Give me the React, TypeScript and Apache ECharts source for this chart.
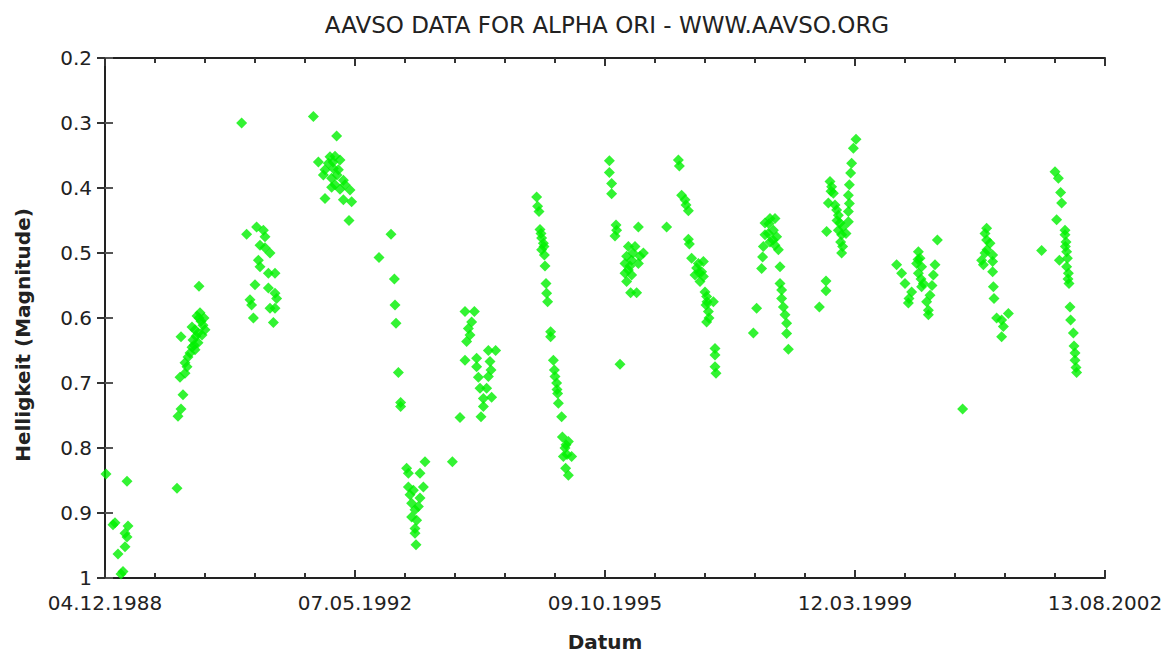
import React, { useEffect, useRef } from "react";
import * as echarts from "echarts";

// x values: days since 04.12.1988 (JD 2447500); y values: visual magnitude
const START_UTC = Date.UTC(1988, 11, 4);
const X_MIN = 0;
const X_MAX = 5000;
const X_STEP = 1250;
const Y_MIN = 0.2;
const Y_MAX = 1.0;
const Y_STEP = 0.1;

const TITLE = "AAVSO DATA FOR ALPHA ORI - WWW.AAVSO.ORG";
const X_NAME = "Datum";
const Y_NAME = "Helligkeit (Magnitude)";

const season1988 = [[5,0.84],[110,0.851],[40,0.918],[50,0.915],[115,0.92],[100,0.931],[110,0.937],[100,0.952],[65,0.963],[90,0.99],[80,0.994]];
const season1989 = [[470,0.551],[475,0.592],[460,0.597],[490,0.611],[435,0.614],[450,0.618],[500,0.618],[465,0.623],[380,0.629],[485,0.626],[440,0.634],[465,0.638],[435,0.645],[450,0.649],[425,0.654],[415,0.66],[400,0.669],[410,0.675],[400,0.685],[375,0.691],[390,0.718],[380,0.74],[365,0.751],[360,0.862],[480,0.605],[455,0.628],[470,0.6],[495,0.6],[445,0.642]];
const season1990 = [[683,0.3],[708,0.471],[758,0.46],[792,0.465],[800,0.475],[775,0.488],[800,0.492],[825,0.5],[767,0.511],[775,0.521],[817,0.531],[850,0.531],[750,0.549],[817,0.554],[850,0.562],[858,0.57],[725,0.572],[733,0.58],[825,0.585],[850,0.585],[742,0.6],[842,0.607]];
const season1991 = [[1042,0.29],[1158,0.32],[1067,0.36],[1125,0.352],[1150,0.351],[1117,0.362],[1175,0.357],[1100,0.372],[1142,0.37],[1167,0.372],[1092,0.38],[1133,0.385],[1192,0.388],[1150,0.395],[1200,0.395],[1133,0.399],[1175,0.402],[1225,0.403],[1100,0.416],[1192,0.418],[1233,0.421],[1220,0.45],[1140,0.36],[1160,0.38]];
const season1992 = [[1370,0.507],[1430,0.471],[1447,0.54],[1450,0.58],[1455,0.608],[1467,0.684],[1478,0.73],[1478,0.736],[1508,0.831],[1600,0.821],[1575,0.839],[1517,0.839],[1517,0.86],[1592,0.86],[1542,0.865],[1525,0.872],[1575,0.877],[1533,0.885],[1567,0.89],[1550,0.895],[1533,0.906],[1558,0.911],[1550,0.924],[1550,0.931],[1555,0.949]];
const season1993 = [[1737,0.821],[1775,0.753],[1800,0.59],[1847,0.59],[1833,0.606],[1817,0.616],[1825,0.626],[1808,0.636],[1800,0.665],[1858,0.662],[1917,0.65],[1953,0.65],[1858,0.675],[1925,0.667],[1930,0.68],[1867,0.691],[1917,0.69],[1875,0.708],[1908,0.708],[1933,0.722],[1892,0.724],[1892,0.736],[1880,0.752]];
const season1994 = [[2158,0.414],[2163,0.428],[2170,0.436],[2175,0.464],[2183,0.477],[2192,0.485],[2183,0.495],[2197,0.503],[2200,0.52],[2205,0.547],[2208,0.562],[2213,0.575],[2228,0.621],[2228,0.629],[2242,0.665],[2247,0.68],[2258,0.7],[2263,0.716],[2267,0.731],[2283,0.752],[2287,0.783],[2317,0.79],[2300,0.8],[2333,0.813],[2292,0.813],[2303,0.831],[2317,0.842],[2180,0.47],[2195,0.49],[2250,0.69],[2260,0.71],[2305,0.795],[2310,0.81]];
const season1995 = [[2522,0.358],[2522,0.376],[2533,0.393],[2533,0.409],[2555,0.457],[2558,0.465],[2550,0.474],[2667,0.46],[2617,0.49],[2650,0.49],[2692,0.5],[2608,0.505],[2633,0.511],[2600,0.516],[2667,0.516],[2617,0.526],[2600,0.531],[2633,0.534],[2608,0.544],[2628,0.561],[2658,0.561],[2575,0.671],[2808,0.46],[2640,0.5],[2675,0.505],[2625,0.52]];
const season1996 = [[2867,0.357],[2872,0.366],[2883,0.411],[2900,0.418],[2905,0.426],[2917,0.435],[2917,0.479],[2922,0.486],[2933,0.508],[2967,0.516],[2992,0.513],[2958,0.523],[2983,0.529],[2950,0.534],[2992,0.536],[2975,0.544],[3000,0.56],[3008,0.567],[3042,0.575],[3005,0.58],[3017,0.59],[3008,0.606],[3050,0.647],[3050,0.657],[3050,0.675],[3055,0.685],[2970,0.53],[3010,0.575],[3020,0.6]];
const season1997 = [[3242,0.623],[3258,0.585],[3283,0.524],[3288,0.506],[3292,0.49],[3300,0.472],[3300,0.454],[3325,0.447],[3350,0.447],[3317,0.47],[3342,0.465],[3358,0.475],[3325,0.483],[3350,0.488],[3367,0.495],[3375,0.521],[3375,0.547],[3383,0.557],[3383,0.57],[3392,0.583],[3400,0.595],[3408,0.608],[3408,0.624],[3417,0.648],[3320,0.455],[3340,0.48]];
const season1998 = [[3572,0.583],[3605,0.558],[3605,0.543],[3608,0.467],[3617,0.423],[3625,0.39],[3633,0.398],[3642,0.408],[3650,0.426],[3658,0.434],[3667,0.442],[3675,0.454],[3667,0.465],[3683,0.472],[3678,0.483],[3688,0.49],[3683,0.5],[3717,0.436],[3722,0.424],[3717,0.411],[3722,0.395],[3728,0.377],[3733,0.362],[3742,0.339],[3755,0.325],[3717,0.452],[3705,0.47],[3630,0.405],[3660,0.45],[3690,0.46]];
const season1999 = [[3958,0.518],[3983,0.531],[4000,0.547],[4033,0.56],[4017,0.577],[4067,0.498],[4075,0.508],[4058,0.516],[4083,0.521],[4067,0.531],[4092,0.547],[4083,0.552],[4150,0.518],[4142,0.534],[4162,0.48],[4125,0.565],[4108,0.575],[4117,0.588],[4117,0.595],[4065,0.51],[4080,0.54],[4135,0.55],[4020,0.57]];
const season2000 = [[4288,0.74],[4408,0.462],[4400,0.47],[4408,0.48],[4425,0.485],[4383,0.511],[4392,0.518],[4438,0.503],[4438,0.513],[4438,0.529],[4442,0.552],[4445,0.57],[4458,0.6],[4483,0.603],[4517,0.593],[4492,0.613],[4483,0.629],[4400,0.5],[4410,0.495]];
const season2001 = [[4683,0.496],[4750,0.375],[4767,0.385],[4778,0.407],[4783,0.423],[4758,0.449],[4800,0.465],[4800,0.472],[4805,0.483],[4808,0.498],[4772,0.511],[4812,0.508],[4808,0.521],[4817,0.531],[4820,0.547],[4825,0.583],[4828,0.603],[4842,0.623],[4845,0.643],[4850,0.654],[4850,0.665],[4855,0.676],[4858,0.684],[4802,0.49],[4815,0.54]];

const seasons = [season1988, season1989, season1990, season1991, season1992, season1993, season1994, season1995, season1996, season1997, season1998, season1999, season2000, season2001];

const FONT = "DejaVu Sans";

function fmtDate(d: number): string {
  const dt = new Date(START_UTC + Math.round(d) * 86400000);
  const p = (n: number) => (n < 10 ? "0" + n : "" + n);
  return p(dt.getUTCDate()) + "." + p(dt.getUTCMonth() + 1) + "." + dt.getUTCFullYear();
}

export default function App() {
  const ref = useRef<HTMLDivElement>(null);
  useEffect(() => {
    if (!ref.current) return;
    const chart = echarts.init(ref.current, null, { renderer: "svg" });
    const data = seasons.flat();
    const axisLine = { show: true, lineStyle: { color: "#222", width: 2 } };
    const majorTick = { show: true, inside: true, length: 8, lineStyle: { color: "#333", width: 2 } };
    const minor = { show: true, splitNumber: 5, length: 5, lineStyle: { color: "#333", width: 2 } };
    chart.setOption({
      animation: false,
      backgroundColor: "#fff",
      title: {
        text: TITLE,
        left: 602,
        top: 8,
        textAlign: "center",
        textStyle: { fontFamily: FONT, fontSize: 23, fontWeight: "normal", color: "#222" },
      },
      grid: { left: 105, right: 65, top: 58, bottom: 77, containLabel: false, outerBoundsMode: "none" },
      xAxis: [
        {
          type: "value",
          min: X_MIN,
          max: X_MAX,
          interval: X_STEP,
          name: X_NAME,
          nameLocation: "middle",
          nameGap: 54,
          nameTextStyle: { fontFamily: FONT, fontSize: 20, fontWeight: "bold", color: "#222" },
          axisLine,
          axisTick: majorTick,
          minorTick: minor,
          splitLine: { show: false },
          axisLabel: {
            formatter: (v: number) => fmtDate(v),
            fontFamily: FONT,
            fontSize: 20,
            color: "#222",
            margin: 15,
          },
        },
        {
          type: "value",
          position: "top",
          min: X_MIN,
          max: X_MAX,
          interval: X_STEP,
          axisLine,
          axisTick: majorTick,
          minorTick: minor,
          splitLine: { show: false },
          axisLabel: { show: false },
        },
      ],
      yAxis: [
        {
          type: "value",
          inverse: true,
          min: Y_MIN,
          max: Y_MAX,
          interval: Y_STEP,
          name: Y_NAME,
          nameLocation: "middle",
          nameGap: 72,
          nameTextStyle: {
            fontFamily: FONT,
            fontSize: 20,
            fontWeight: "bold",
            color: "#222",
            padding: [0, 34, 0, 0],
          },
          axisLine,
          axisTick: { show: true, inside: true, length: 8, lineStyle: { color: "#555", width: 2 } },
          splitLine: { show: false },
          axisLabel: {
            formatter: (v: number) => String(Math.round(v * 10) / 10),
            fontFamily: FONT,
            fontSize: 20,
            color: "#222",
            margin: 13,
          },
        },
        {
          type: "value",
          position: "right",
          inverse: true,
          min: Y_MIN,
          max: Y_MAX,
          interval: Y_STEP,
          axisLine,
          axisTick: majorTick,
          splitLine: { show: false },
          axisLabel: { show: false },
        },
      ],
      series: [
        {
          type: "scatter",
          xAxisIndex: 0,
          yAxisIndex: 0,
          symbol: "diamond",
          symbolSize: 11,
          itemStyle: { color: "#00f000" },
          data,
        },
      ],
    });
    return () => chart.dispose();
  }, []);
  return (
    <div
      ref={ref}
      style={{ position: "fixed", left: 0, top: 0, width: 1170, height: 655, background: "#fff" }}
    />
  );
}
